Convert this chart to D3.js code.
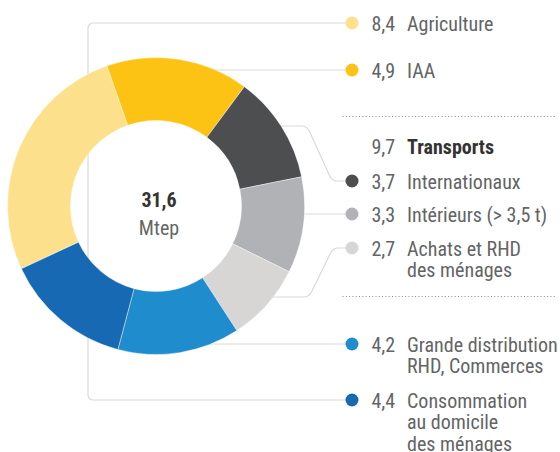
<!DOCTYPE html>
<html>
<head>
<meta charset="utf-8">
<script src="https://cdn.jsdelivr.net/npm/d3@7"></script>
<style>
  body { margin: 0; background: #fff; }
  svg text { font-family: "Liberation Sans Narrow", "Roboto Condensed", "DejaVu Sans Condensed", sans-serif; }
</style>
</head>
<body>
<div class="chart"></div>
<script>
// Consommation d'énergie de la chaîne alimentaire (Mtep)

var categories = ['Agriculture', 'IAA', 'Internationaux', 'Intérieurs (> 3,5 t)',
  'Achats et RHD des ménages', 'Grande distribution RHD, Commerces',
  'Consommation au domicile des ménages'];
var values = [8.4, 4.9, 3.7, 3.3, 2.7, 4.2, 4.4];
var colors = ['#fde08b', '#fcc314', '#4d4e50', '#b1b2b5', '#d7d6d5', '#1f8dcd', '#1769b4'];
var labelLines = [
  ['Agriculture'],
  ['IAA'],
  ['Internationaux'],
  ['Intérieurs (> 3,5 t)'],
  ['Achats et RHD', 'des ménages'],
  ['Grande distribution', 'RHD, Commerces'],
  ['Consommation', 'au domicile', 'des ménages']
];
var transportGroup = ['Internationaux', 'Intérieurs (> 3,5 t)', 'Achats et RHD des ménages'];
var unit = 'Mtep';

// layout
var width = 560, height = 452;
var cx = 156, cy = 206, outerR = 148.5, innerR = 85.5;
var legendY = [23, 70, 181, 214, 248, 344, 400];
var dotX = 352, valueX = 371.5, labelX = 407, lineH = 21.7;
var lineColor = '#d9d9d9';
var fontSize = 20;

var fr = d3.formatLocale({ decimal: ',', thousands: ' ', grouping: [3], currency: ['', ' €'] });
var fmt = fr.format('.1f');

var svg = d3.select('.chart').append('svg')
  .attr('width', width)
  .attr('height', height);

var deg = Math.PI / 180;
var start = -115 * deg;
var pie = d3.pie()
  .sort(null)
  .value(function(d) { return d; })
  .startAngle(start)
  .endAngle(start + 2 * Math.PI);
var arcs = pie(values);

var arc = d3.arc()
  .innerRadius(innerR)
  .outerRadius(outerR);

// x inside the ring at a given y, so connectors start hidden under the donut
function ringX(y) {
  var dy = Math.abs(y - cy);
  var xo = Math.sqrt(Math.max(outerR * outerR - dy * dy, 0));
  var xi = dy < innerR ? Math.sqrt(innerR * innerR - dy * dy) : 0;
  return cx + (xo + xi) / 2;
}

// connectors (drawn first, the donut covers their start)
var lines = svg.append('g')
  .attr('fill', 'none')
  .attr('stroke', lineColor)
  .attr('stroke-width', 1.2);

function connector(i) {
  var y = legendY[i];
  var p = d3.path();
  var end = dotX - 6;
  if (i === 0 || i === 6) {
    // bracket on the left linking agriculture and home consumption
    var yTop = legendY[0], yBot = legendY[6];
    p.moveTo(end, yTop);
    p.arcTo(88, yTop, 88, yBot, 5);
    p.arcTo(88, yBot, end, yBot, 5);
    p.lineTo(end, yBot);
  } else if (i === 2) {
    var y0 = 126;
    p.moveTo(ringX(y0), y0);
    p.arcTo(307, y0, 332, y, 9);
    p.arcTo(332, y, end, y, 9);
    p.lineTo(end, y);
  } else if (i === 4) {
    var y1 = 297;
    p.moveTo(ringX(y1), y1);
    p.arcTo(309, y1, 333, y, 9);
    p.arcTo(333, y, end, y, 9);
    p.lineTo(end, y);
  } else {
    p.moveTo(ringX(y), y);
    p.lineTo(end, y);
  }
  return p.toString();
}

[0, 1, 2, 3, 4, 5].forEach(function(i) {
  lines.append('path').attr('d', connector(i));
});

// donut
svg.append('g')
  .attr('transform', 'translate(' + cx + ',' + cy + ')')
  .selectAll('path')
  .data(arcs)
  .enter()
  .append('path')
    .attr('d', arc)
    .attr('fill', function(d, i) { return colors[i]; })
    .attr('stroke', '#fff')
    .attr('stroke-width', 0.4);

// centre total
svg.append('text')
  .attr('x', cx + 3)
  .attr('y', 206.5)
  .attr('text-anchor', 'middle')
  .attr('font-size', 20)
  .attr('font-weight', 'bold')
  .attr('fill', '#333')
  .text(fmt(d3.sum(values)));

svg.append('text')
  .attr('x', cx + 3)
  .attr('y', 235)
  .attr('text-anchor', 'middle')
  .attr('font-size', 20)
  .attr('fill', '#666')
  .text(unit);

// legend
var legend = svg.append('g');

legend.selectAll('circle')
  .data(values)
  .enter()
  .append('circle')
    .attr('cx', dotX)
    .attr('cy', function(d, i) { return legendY[i]; })
    .attr('r', 6.5)
    .attr('fill', function(d, i) { return colors[i]; });

legend.selectAll('.val')
  .data(values)
  .enter()
  .append('text')
    .attr('class', 'val')
    .attr('x', valueX)
    .attr('y', function(d, i) { return legendY[i] + 7.5; })
    .attr('font-size', fontSize)
    .attr('fill', '#636466')
    .text(function(d) { return fmt(d); });

legend.selectAll('.lab')
  .data(labelLines)
  .enter()
  .append('text')
    .attr('class', 'lab')
    .attr('x', labelX)
    .attr('y', function(d, i) { return legendY[i] + 7.5; })
    .attr('font-size', fontSize)
    .attr('fill', '#636466')
  .selectAll('tspan')
  .data(function(d) { return d; })
  .enter()
  .append('tspan')
    .attr('x', labelX)
    .attr('dy', function(d, j) { return j === 0 ? 0 : lineH; })
    .text(function(d) { return d; });

// transports subtotal
var transportTotal = d3.sum(categories, function(c, i) {
  return transportGroup.indexOf(c) >= 0 ? values[i] : 0;
});
var tRow = legend.append('text')
  .attr('y', 154)
  .attr('font-size', fontSize);
tRow.append('tspan')
  .attr('x', valueX)
  .attr('fill', '#636466')
  .text(fmt(transportTotal));
tRow.append('tspan')
  .attr('x', labelX)
  .attr('fill', '#333')
  .attr('font-weight', 'bold')
  .text('Transports');

// dotted separators
[116.5, 296.5].forEach(function(y) {
  svg.append('line')
    .attr('x1', 342.5)
    .attr('x2', 556)
    .attr('y1', y)
    .attr('y2', y)
    .attr('stroke', '#8a8a8a')
    .attr('stroke-width', 1)
    .attr('stroke-dasharray', '1 2.3');
});
</script>
</body>
</html>
